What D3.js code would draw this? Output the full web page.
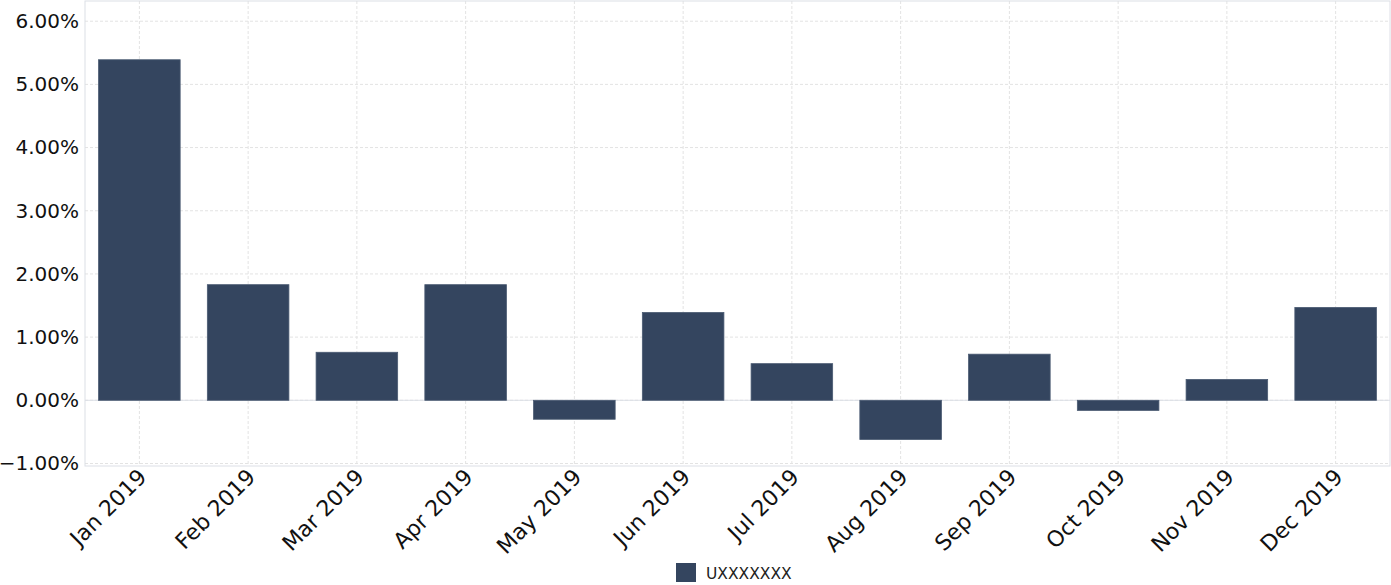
<!DOCTYPE html>
<html>
<head>
<meta charset="utf-8">
<script src="https://cdn.jsdelivr.net/npm/d3@7"></script>
<style>
  body { margin: 0; background: #fff; }
  text { font-family: "DejaVu Sans", sans-serif; }
</style>
</head>
<body>
<div id="chart"></div>
<script>
var months = ["Jan 2019", "Feb 2019", "Mar 2019", "Apr 2019", "May 2019", "Jun 2019",
              "Jul 2019", "Aug 2019", "Sep 2019", "Oct 2019", "Nov 2019", "Dec 2019"];
var returns = [5.39, 1.83, 0.76, 1.83, -0.30, 1.39, 0.58, -0.62, 0.73, -0.16, 0.33, 1.47];
var yTicks = [-1, 0, 1, 2, 3, 4, 5, 6];
var seriesName = "UXXXXXXX";

var margin = {top: 1, right: 1, bottom: 119, left: 85},
    width = 1391 - margin.left - margin.right,
    height = 585 - margin.top - margin.bottom;

var svg = d3.select("#chart")
  .append("svg")
    .attr("width", 1391)
    .attr("height", 585)
  .append("g")
    .attr("transform", "translate(" + margin.left + "," + margin.top + ")");

var x = d3.scaleBand()
    .domain(months)
    .range([0, width])
    .paddingInner(0.25)
    .paddingOuter(0.125);

var y = d3.scaleLinear()
    .domain([-1.04, 6.32])
    .range([height, 0]);

// grid lines
svg.append("g")
  .selectAll("line")
  .data(yTicks)
  .enter().append("line")
    .attr("x1", 0).attr("x2", width)
    .attr("y1", function(d) { return y(d); })
    .attr("y2", function(d) { return y(d); })
    .attr("stroke", "#e3e3e3")
    .attr("stroke-dasharray", "3,2");

svg.append("g")
  .selectAll("line")
  .data(months)
  .enter().append("line")
    .attr("x1", function(d) { return x(d) + x.bandwidth() / 2; })
    .attr("x2", function(d) { return x(d) + x.bandwidth() / 2; })
    .attr("y1", 0).attr("y2", height)
    .attr("stroke", "#e3e3e3")
    .attr("stroke-dasharray", "3,2");

// zero line
svg.append("line")
    .attr("x1", 0).attr("x2", width)
    .attr("y1", y(0)).attr("y2", y(0))
    .attr("stroke", "#dcdfe6");

// frame
svg.append("rect")
    .attr("x", 0).attr("y", 0)
    .attr("width", width).attr("height", height)
    .attr("fill", "none")
    .attr("stroke", "#dcdfe6");

// bars
svg.selectAll("rect.bar")
    .data(returns)
    .enter()
    .append("rect")
      .attr("class", "bar")
      .attr("x", function(d, i) { return x(months[i]); })
      .attr("y", function(d) { return y(Math.max(d, 0)); })
      .attr("width", x.bandwidth())
      .attr("height", function(d) { return Math.abs(y(d) - y(0)); })
      .attr("fill", "#34455f")
      .attr("stroke", "#4a5a72")
      .attr("stroke-width", 0.8);

// y axis
var yAxis = svg.append("g")
    .call(d3.axisLeft(y)
      .tickValues(yTicks)
      .tickSize(0)
      .tickPadding(6)
      .tickFormat(function(d) { return d3.format(".2f")(d) + "%"; }));
yAxis.select(".domain").remove();
yAxis.selectAll("text")
    .style("font-size", "20px")
    .attr("fill", "#111");

// x axis
var xAxis = svg.append("g")
    .attr("transform", "translate(0," + height + ")")
    .call(d3.axisBottom(x).tickSize(0).tickPadding(0));
xAxis.select(".domain").remove();
xAxis.selectAll("text")
    .style("font-size", "22px")
    .attr("fill", "#111")
    .attr("text-anchor", "end")
    .attr("dy", "0.35em")
    .attr("transform", "translate(3,7) rotate(-45)");

// legend
var legend = d3.select("svg").append("g")
    .attr("transform", "translate(676,563)");
legend.append("rect")
    .attr("width", 20).attr("height", 19)
    .attr("fill", "#34455f");
legend.append("text")
    .attr("x", 30).attr("y", 16)
    .text(seriesName)
    .style("font-size", "15.5px")
    .attr("fill", "#222");
</script>
</body>
</html>
